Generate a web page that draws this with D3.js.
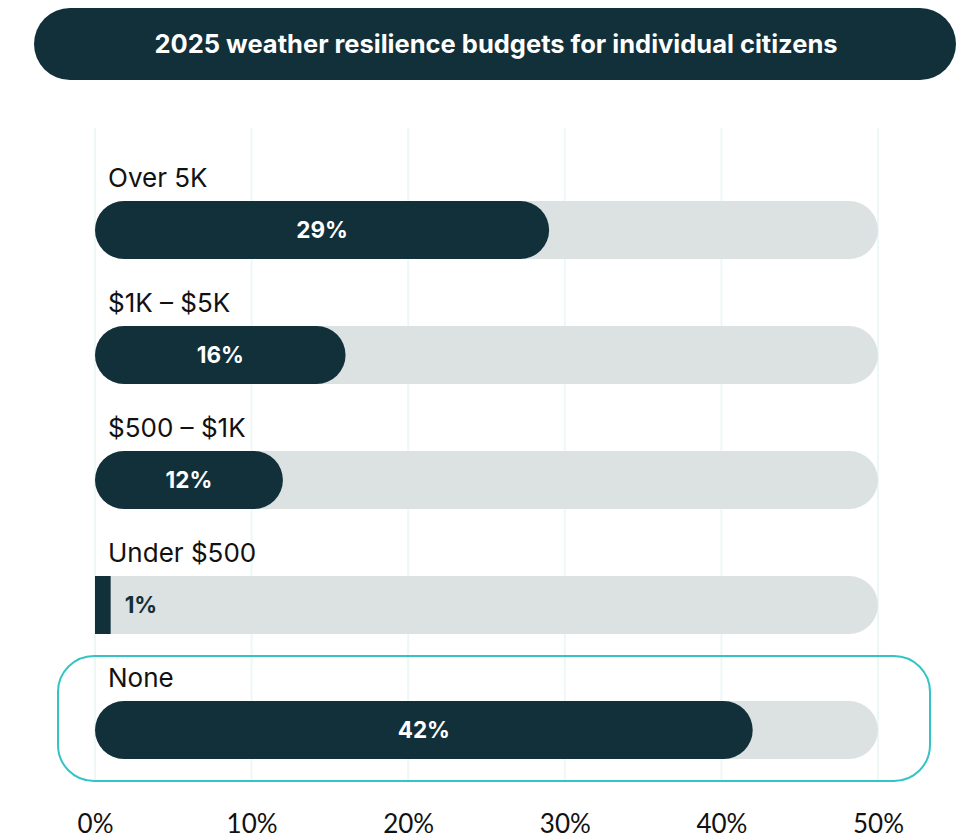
<!DOCTYPE html>
<html>
<head>
<meta charset="utf-8">
<script src="https://cdn.jsdelivr.net/npm/d3@7"></script>
<style>
  html, body { margin: 0; padding: 0; background: #ffffff; }
  svg { display: block; }
</style>
</head>
<body>
<svg id="chart" width="957" height="838"></svg>
<script>
// Budget brackets and share of respondents (%)
const categories = ["Over 5K", "$1K – $5K", "$500 – $1K", "Under $500", "None"];
const values = [29, 16, 12, 1, 42];
const tickValues = [0, 10, 20, 30, 40, 50];
const tickLabels = ["0%", "10%", "20%", "30%", "40%", "50%"];
const highlighted = ["None"];
const titleText = "2025 weather resilience budgets for individual citizens";

const dark = "#11303a", track = "#dce1e1", grid = "#eef7f7", teal = "#35c3c6";
const font = "Inter, 'Open Sans', sans-serif";
const axisFont = "Lato, 'Open Sans', sans-serif";

const svg = d3.select("#chart");

const x = d3.scaleLinear().domain([0, 50]).range([95, 878]);
// rows are 125px apart, bar height 58px
const rowStep = 125, barH = 58, firstBarTop = 201;
const barTop = c => firstBarTop + categories.indexOf(c) * rowStep;

// Title pill
svg.append("rect")
  .attr("x", 34).attr("y", 8).attr("width", 922).attr("height", 72)
  .attr("rx", 36).attr("fill", dark);
svg.append("text")
  .attr("x", 496).attr("y", 44).attr("dy", "0.35em")
  .attr("text-anchor", "middle")
  .attr("font-family", font).attr("font-weight", 700).attr("font-size", 25.5)
  .attr("fill", "#ffffff")
  .text(titleText);

// Vertical gridlines
svg.append("g").selectAll("line").data(tickValues).join("line")
  .attr("x1", d => x(d)).attr("x2", d => x(d))
  .attr("y1", 128).attr("y2", 780)
  .attr("stroke", grid).attr("stroke-width", 2);

// Highlight frame around selected rows
highlighted.forEach(c => {
  const t = barTop(c);
  svg.append("rect")
    .attr("x", 58).attr("y", t - 45).attr("width", 872).attr("height", 125)
    .attr("rx", 36)
    .attr("fill", "none").attr("stroke", teal).attr("stroke-width", 2);
});

// Path for a rectangle with separate left/right corner radii
function pill(x0, x1, top, h, rl, rr) {
  const b = top + h;
  return `M${x0 + rl},${top}H${x1 - rr}` +
    (rr ? `A${rr},${rr} 0 0 1 ${x1},${top + rr}V${b - rr}A${rr},${rr} 0 0 1 ${x1 - rr},${b}` : `H${x1}V${b}`) +
    `H${x0 + rl}` +
    (rl ? `A${rl},${rl} 0 0 1 ${x0},${b - rl}V${top + rl}A${rl},${rl} 0 0 1 ${x0 + rl},${top}` : `H${x0}V${top}`) +
    "Z";
}

const rows = categories.map((c, i) => ({ c, v: values[i] }));
const r = barH / 2;
const fits = d => x(d.v) - x(0) >= 2 * r;

const g = svg.append("g").selectAll("g").data(rows).join("g");

// Category labels
g.append("text")
  .attr("x", 108).attr("y", d => barTop(d.c) - 14)
  .attr("font-family", font).attr("font-size", 26).attr("font-weight", 400)
  .attr("fill", "#111111")
  .text(d => d.c);

// Track
g.append("path")
  .attr("d", d => pill(x(0), x(50), barTop(d.c), barH, fits(d) ? r : 0, r))
  .attr("fill", track);

// Value bar
g.append("path")
  .attr("d", d => {
    const rr = fits(d) ? r : 0;
    return pill(x(0), x(d.v), barTop(d.c), barH, rr, rr);
  })
  .attr("fill", dark);

// Value labels: inside the bar when it fits, else just past its end
g.append("text")
  .attr("x", d => fits(d) ? (x(0) + x(d.v)) / 2 : x(d.v) + 14)
  .attr("text-anchor", d => fits(d) ? "middle" : "start")
  .attr("y", d => barTop(d.c) + barH / 2).attr("dy", "0.35em")
  .attr("font-family", font).attr("font-weight", 700).attr("font-size", 22.5)
  .attr("fill", d => fits(d) ? "#ffffff" : dark)
  .text(d => d.v + "%");

// Bottom axis labels
const axis = d3.axisBottom(x).tickValues(tickValues)
  .tickFormat((d, i) => tickLabels[i]).tickSize(0).tickPadding(0);
const ax = svg.append("g").attr("transform", "translate(0,815)").call(axis);
ax.select(".domain").remove();
ax.selectAll("text")
  .attr("font-family", axisFont).attr("font-size", 26).attr("font-weight", 400)
  .attr("fill", "#111111");
</script>
</body>
</html>
